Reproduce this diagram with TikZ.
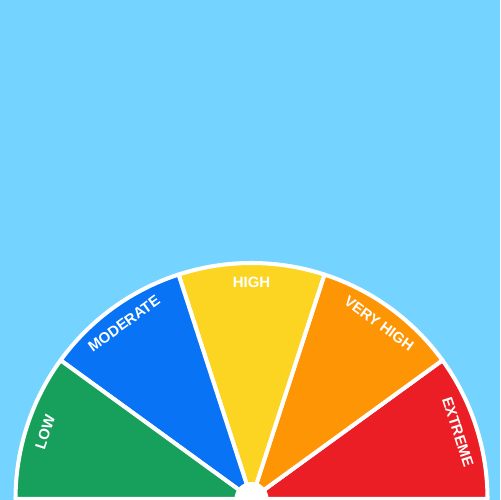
\documentclass[tikz,border=0pt]{standalone}
\usepackage{fontspec}
\setmainfont{Liberation Sans}
\definecolor{bg}{HTML}{74D3FF}
\definecolor{cgreen}{HTML}{16A05C}
\definecolor{cblue}{HTML}{0873F4}
\definecolor{cyellow}{HTML}{FCD422}
\definecolor{corange}{HTML}{FE9505}
\definecolor{cred}{HTML}{EB1D25}
\begin{document}
\begin{tikzpicture}[x=0.02cm,y=0.02cm,
  sector/.style={draw=white,line width=2.3pt,line join=round},
  lab/.style={text=white,font=\fontsize{8.5}{10}\selectfont\bfseries,inner sep=0pt}]
\fill[bg] (0,0) rectangle (500,500);
\useasboundingbox (0,0) rectangle (500,500);
\coordinate (c) at (251.5,1);
\filldraw[sector,fill=cred]    (c) -- ++(0:236)   arc[start angle=0,end angle=36,radius=236] -- cycle;
\filldraw[sector,fill=corange] (c) -- ++(36:236)  arc[start angle=36,end angle=72,radius=236] -- cycle;
\filldraw[sector,fill=cyellow] (c) -- ++(72:236)  arc[start angle=72,end angle=108,radius=236] -- cycle;
\filldraw[sector,fill=cblue]   (c) -- ++(108:236) arc[start angle=108,end angle=144,radius=236] -- cycle;
\filldraw[sector,fill=cgreen]  (c) -- ++(144:236) arc[start angle=144,end angle=180,radius=236] -- cycle;
\fill[white] (c) circle[radius=17];
\node[lab,rotate=72]  (low)  at ([shift={(162:217)}]c) {LOW};
\node[lab,rotate=36]  (mod)  at ([shift={(126:217)}]c) {MODERATE};
\node[lab]            (high) at ([shift={(90:217)}]c)  {HIGH};
\node[lab,rotate=-36] (vhigh) at ([shift={(54:217)}]c) {VERY HIGH};
\node[lab,rotate=-72] (ext)  at ([shift={(18:217)}]c)  {EXTREME};
\end{tikzpicture}
\end{document}
